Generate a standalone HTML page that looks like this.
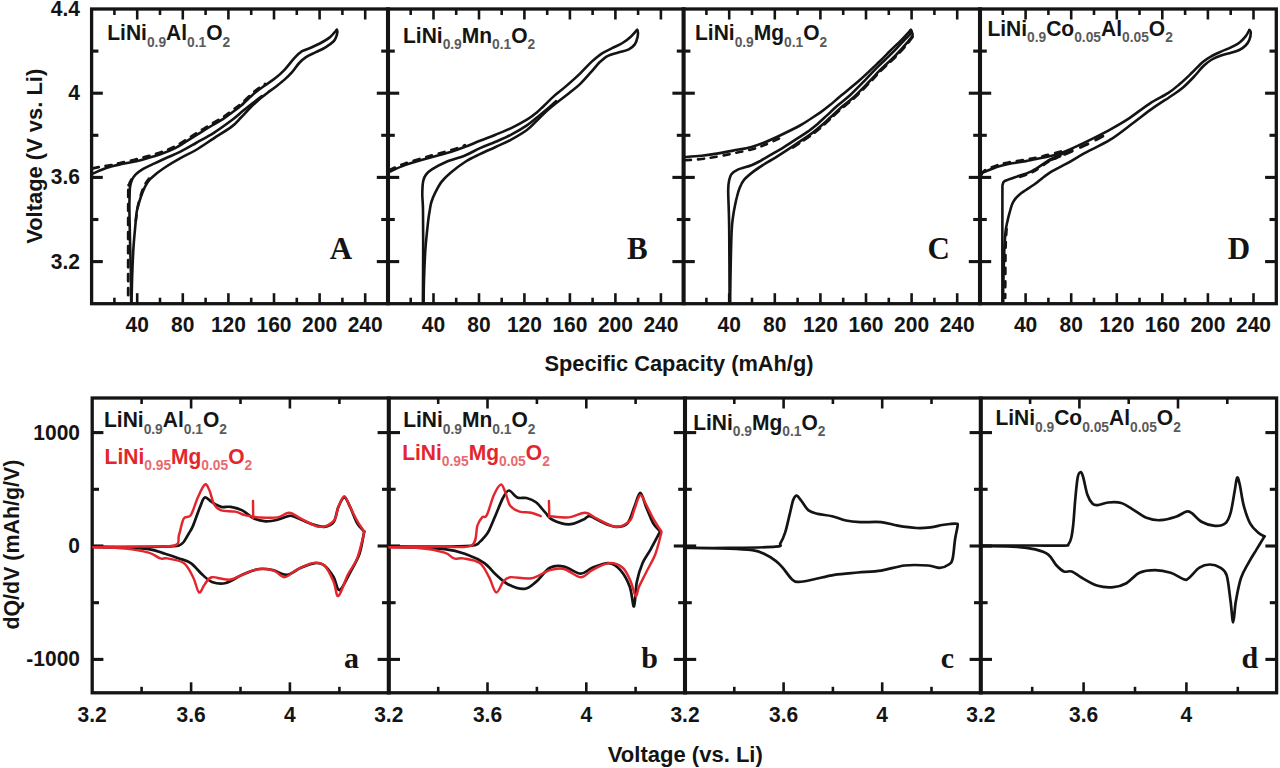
<!DOCTYPE html>
<html><head><meta charset="utf-8"><style>
html,body{margin:0;padding:0;background:#fff;}
body{width:1280px;height:768px;overflow:hidden;}
svg{display:block;}
</style></head><body>
<svg width="1280" height="768" viewBox="0 0 1280 768">
<rect width="1280" height="768" fill="#fff"/>
<rect x="91.6" y="9" width="1184.7" height="294.7" fill="none" stroke="#141414" stroke-width="3.3"/>
<line x1="388" y1="7.3" x2="388" y2="305.3" stroke="#141414" stroke-width="4.1"/>
<line x1="683.6" y1="7.3" x2="683.6" y2="305.3" stroke="#141414" stroke-width="4.1"/>
<line x1="980" y1="7.3" x2="980" y2="305.3" stroke="#141414" stroke-width="4.1"/>
<rect x="92.2" y="398" width="1184.4" height="294.8" fill="none" stroke="#141414" stroke-width="3.3"/>
<line x1="388.8" y1="396.4" x2="388.8" y2="694.4" stroke="#141414" stroke-width="4.1"/>
<line x1="685" y1="396.4" x2="685" y2="694.4" stroke="#141414" stroke-width="4.1"/>
<line x1="980.8" y1="396.4" x2="980.8" y2="694.4" stroke="#141414" stroke-width="4.1"/>
<line x1="114.4" y1="9" x2="114.4" y2="15" stroke="#141414" stroke-width="2.6"/>
<line x1="114.4" y1="303.7" x2="114.4" y2="297.7" stroke="#141414" stroke-width="2.6"/>
<line x1="137.2" y1="9" x2="137.2" y2="19.5" stroke="#141414" stroke-width="2.6"/>
<line x1="137.2" y1="303.7" x2="137.2" y2="293.2" stroke="#141414" stroke-width="2.6"/>
<line x1="160" y1="9" x2="160" y2="15" stroke="#141414" stroke-width="2.6"/>
<line x1="160" y1="303.7" x2="160" y2="297.7" stroke="#141414" stroke-width="2.6"/>
<line x1="182.8" y1="9" x2="182.8" y2="19.5" stroke="#141414" stroke-width="2.6"/>
<line x1="182.8" y1="303.7" x2="182.8" y2="293.2" stroke="#141414" stroke-width="2.6"/>
<line x1="205.6" y1="9" x2="205.6" y2="15" stroke="#141414" stroke-width="2.6"/>
<line x1="205.6" y1="303.7" x2="205.6" y2="297.7" stroke="#141414" stroke-width="2.6"/>
<line x1="228.4" y1="9" x2="228.4" y2="19.5" stroke="#141414" stroke-width="2.6"/>
<line x1="228.4" y1="303.7" x2="228.4" y2="293.2" stroke="#141414" stroke-width="2.6"/>
<line x1="251.2" y1="9" x2="251.2" y2="15" stroke="#141414" stroke-width="2.6"/>
<line x1="251.2" y1="303.7" x2="251.2" y2="297.7" stroke="#141414" stroke-width="2.6"/>
<line x1="274" y1="9" x2="274" y2="19.5" stroke="#141414" stroke-width="2.6"/>
<line x1="274" y1="303.7" x2="274" y2="293.2" stroke="#141414" stroke-width="2.6"/>
<line x1="296.8" y1="9" x2="296.8" y2="15" stroke="#141414" stroke-width="2.6"/>
<line x1="296.8" y1="303.7" x2="296.8" y2="297.7" stroke="#141414" stroke-width="2.6"/>
<line x1="319.6" y1="9" x2="319.6" y2="19.5" stroke="#141414" stroke-width="2.6"/>
<line x1="319.6" y1="303.7" x2="319.6" y2="293.2" stroke="#141414" stroke-width="2.6"/>
<line x1="342.4" y1="9" x2="342.4" y2="15" stroke="#141414" stroke-width="2.6"/>
<line x1="342.4" y1="303.7" x2="342.4" y2="297.7" stroke="#141414" stroke-width="2.6"/>
<line x1="365.2" y1="9" x2="365.2" y2="19.5" stroke="#141414" stroke-width="2.6"/>
<line x1="365.2" y1="303.7" x2="365.2" y2="293.2" stroke="#141414" stroke-width="2.6"/>
<line x1="410.7" y1="9" x2="410.7" y2="15" stroke="#141414" stroke-width="2.6"/>
<line x1="410.7" y1="303.7" x2="410.7" y2="297.7" stroke="#141414" stroke-width="2.6"/>
<line x1="433.5" y1="9" x2="433.5" y2="19.5" stroke="#141414" stroke-width="2.6"/>
<line x1="433.5" y1="303.7" x2="433.5" y2="293.2" stroke="#141414" stroke-width="2.6"/>
<line x1="456.2" y1="9" x2="456.2" y2="15" stroke="#141414" stroke-width="2.6"/>
<line x1="456.2" y1="303.7" x2="456.2" y2="297.7" stroke="#141414" stroke-width="2.6"/>
<line x1="479" y1="9" x2="479" y2="19.5" stroke="#141414" stroke-width="2.6"/>
<line x1="479" y1="303.7" x2="479" y2="293.2" stroke="#141414" stroke-width="2.6"/>
<line x1="501.7" y1="9" x2="501.7" y2="15" stroke="#141414" stroke-width="2.6"/>
<line x1="501.7" y1="303.7" x2="501.7" y2="297.7" stroke="#141414" stroke-width="2.6"/>
<line x1="524.4" y1="9" x2="524.4" y2="19.5" stroke="#141414" stroke-width="2.6"/>
<line x1="524.4" y1="303.7" x2="524.4" y2="293.2" stroke="#141414" stroke-width="2.6"/>
<line x1="547.2" y1="9" x2="547.2" y2="15" stroke="#141414" stroke-width="2.6"/>
<line x1="547.2" y1="303.7" x2="547.2" y2="297.7" stroke="#141414" stroke-width="2.6"/>
<line x1="569.9" y1="9" x2="569.9" y2="19.5" stroke="#141414" stroke-width="2.6"/>
<line x1="569.9" y1="303.7" x2="569.9" y2="293.2" stroke="#141414" stroke-width="2.6"/>
<line x1="592.6" y1="9" x2="592.6" y2="15" stroke="#141414" stroke-width="2.6"/>
<line x1="592.6" y1="303.7" x2="592.6" y2="297.7" stroke="#141414" stroke-width="2.6"/>
<line x1="615.4" y1="9" x2="615.4" y2="19.5" stroke="#141414" stroke-width="2.6"/>
<line x1="615.4" y1="303.7" x2="615.4" y2="293.2" stroke="#141414" stroke-width="2.6"/>
<line x1="638.1" y1="9" x2="638.1" y2="15" stroke="#141414" stroke-width="2.6"/>
<line x1="638.1" y1="303.7" x2="638.1" y2="297.7" stroke="#141414" stroke-width="2.6"/>
<line x1="660.9" y1="9" x2="660.9" y2="19.5" stroke="#141414" stroke-width="2.6"/>
<line x1="660.9" y1="303.7" x2="660.9" y2="293.2" stroke="#141414" stroke-width="2.6"/>
<line x1="706.4" y1="9" x2="706.4" y2="15" stroke="#141414" stroke-width="2.6"/>
<line x1="706.4" y1="303.7" x2="706.4" y2="297.7" stroke="#141414" stroke-width="2.6"/>
<line x1="729.2" y1="9" x2="729.2" y2="19.5" stroke="#141414" stroke-width="2.6"/>
<line x1="729.2" y1="303.7" x2="729.2" y2="293.2" stroke="#141414" stroke-width="2.6"/>
<line x1="752" y1="9" x2="752" y2="15" stroke="#141414" stroke-width="2.6"/>
<line x1="752" y1="303.7" x2="752" y2="297.7" stroke="#141414" stroke-width="2.6"/>
<line x1="774.8" y1="9" x2="774.8" y2="19.5" stroke="#141414" stroke-width="2.6"/>
<line x1="774.8" y1="303.7" x2="774.8" y2="293.2" stroke="#141414" stroke-width="2.6"/>
<line x1="797.6" y1="9" x2="797.6" y2="15" stroke="#141414" stroke-width="2.6"/>
<line x1="797.6" y1="303.7" x2="797.6" y2="297.7" stroke="#141414" stroke-width="2.6"/>
<line x1="820.4" y1="9" x2="820.4" y2="19.5" stroke="#141414" stroke-width="2.6"/>
<line x1="820.4" y1="303.7" x2="820.4" y2="293.2" stroke="#141414" stroke-width="2.6"/>
<line x1="843.2" y1="9" x2="843.2" y2="15" stroke="#141414" stroke-width="2.6"/>
<line x1="843.2" y1="303.7" x2="843.2" y2="297.7" stroke="#141414" stroke-width="2.6"/>
<line x1="866" y1="9" x2="866" y2="19.5" stroke="#141414" stroke-width="2.6"/>
<line x1="866" y1="303.7" x2="866" y2="293.2" stroke="#141414" stroke-width="2.6"/>
<line x1="888.8" y1="9" x2="888.8" y2="15" stroke="#141414" stroke-width="2.6"/>
<line x1="888.8" y1="303.7" x2="888.8" y2="297.7" stroke="#141414" stroke-width="2.6"/>
<line x1="911.6" y1="9" x2="911.6" y2="19.5" stroke="#141414" stroke-width="2.6"/>
<line x1="911.6" y1="303.7" x2="911.6" y2="293.2" stroke="#141414" stroke-width="2.6"/>
<line x1="934.4" y1="9" x2="934.4" y2="15" stroke="#141414" stroke-width="2.6"/>
<line x1="934.4" y1="303.7" x2="934.4" y2="297.7" stroke="#141414" stroke-width="2.6"/>
<line x1="957.2" y1="9" x2="957.2" y2="19.5" stroke="#141414" stroke-width="2.6"/>
<line x1="957.2" y1="303.7" x2="957.2" y2="293.2" stroke="#141414" stroke-width="2.6"/>
<line x1="1002.8" y1="9" x2="1002.8" y2="15" stroke="#141414" stroke-width="2.6"/>
<line x1="1002.8" y1="303.7" x2="1002.8" y2="297.7" stroke="#141414" stroke-width="2.6"/>
<line x1="1025.6" y1="9" x2="1025.6" y2="19.5" stroke="#141414" stroke-width="2.6"/>
<line x1="1025.6" y1="303.7" x2="1025.6" y2="293.2" stroke="#141414" stroke-width="2.6"/>
<line x1="1048.4" y1="9" x2="1048.4" y2="15" stroke="#141414" stroke-width="2.6"/>
<line x1="1048.4" y1="303.7" x2="1048.4" y2="297.7" stroke="#141414" stroke-width="2.6"/>
<line x1="1071.2" y1="9" x2="1071.2" y2="19.5" stroke="#141414" stroke-width="2.6"/>
<line x1="1071.2" y1="303.7" x2="1071.2" y2="293.2" stroke="#141414" stroke-width="2.6"/>
<line x1="1094" y1="9" x2="1094" y2="15" stroke="#141414" stroke-width="2.6"/>
<line x1="1094" y1="303.7" x2="1094" y2="297.7" stroke="#141414" stroke-width="2.6"/>
<line x1="1116.8" y1="9" x2="1116.8" y2="19.5" stroke="#141414" stroke-width="2.6"/>
<line x1="1116.8" y1="303.7" x2="1116.8" y2="293.2" stroke="#141414" stroke-width="2.6"/>
<line x1="1139.5" y1="9" x2="1139.5" y2="15" stroke="#141414" stroke-width="2.6"/>
<line x1="1139.5" y1="303.7" x2="1139.5" y2="297.7" stroke="#141414" stroke-width="2.6"/>
<line x1="1162.3" y1="9" x2="1162.3" y2="19.5" stroke="#141414" stroke-width="2.6"/>
<line x1="1162.3" y1="303.7" x2="1162.3" y2="293.2" stroke="#141414" stroke-width="2.6"/>
<line x1="1185.1" y1="9" x2="1185.1" y2="15" stroke="#141414" stroke-width="2.6"/>
<line x1="1185.1" y1="303.7" x2="1185.1" y2="297.7" stroke="#141414" stroke-width="2.6"/>
<line x1="1207.9" y1="9" x2="1207.9" y2="19.5" stroke="#141414" stroke-width="2.6"/>
<line x1="1207.9" y1="303.7" x2="1207.9" y2="293.2" stroke="#141414" stroke-width="2.6"/>
<line x1="1230.7" y1="9" x2="1230.7" y2="15" stroke="#141414" stroke-width="2.6"/>
<line x1="1230.7" y1="303.7" x2="1230.7" y2="297.7" stroke="#141414" stroke-width="2.6"/>
<line x1="1253.5" y1="9" x2="1253.5" y2="19.5" stroke="#141414" stroke-width="2.6"/>
<line x1="1253.5" y1="303.7" x2="1253.5" y2="293.2" stroke="#141414" stroke-width="2.6"/>
<line x1="91.6" y1="51.1" x2="98.4" y2="51.1" stroke="#141414" stroke-width="3.1"/>
<line x1="381.2" y1="51.1" x2="394.8" y2="51.1" stroke="#141414" stroke-width="3.1"/>
<line x1="676.8" y1="51.1" x2="690.4" y2="51.1" stroke="#141414" stroke-width="3.1"/>
<line x1="973.2" y1="51.1" x2="986.8" y2="51.1" stroke="#141414" stroke-width="3.1"/>
<line x1="1276.3" y1="51.1" x2="1269.5" y2="51.1" stroke="#141414" stroke-width="3.1"/>
<line x1="91.6" y1="93.2" x2="102.8" y2="93.2" stroke="#141414" stroke-width="3.1"/>
<line x1="376.8" y1="93.2" x2="399.2" y2="93.2" stroke="#141414" stroke-width="3.1"/>
<line x1="672.4" y1="93.2" x2="694.8" y2="93.2" stroke="#141414" stroke-width="3.1"/>
<line x1="968.8" y1="93.2" x2="991.2" y2="93.2" stroke="#141414" stroke-width="3.1"/>
<line x1="1276.3" y1="93.2" x2="1265.1" y2="93.2" stroke="#141414" stroke-width="3.1"/>
<line x1="91.6" y1="135.3" x2="98.4" y2="135.3" stroke="#141414" stroke-width="3.1"/>
<line x1="381.2" y1="135.3" x2="394.8" y2="135.3" stroke="#141414" stroke-width="3.1"/>
<line x1="676.8" y1="135.3" x2="690.4" y2="135.3" stroke="#141414" stroke-width="3.1"/>
<line x1="973.2" y1="135.3" x2="986.8" y2="135.3" stroke="#141414" stroke-width="3.1"/>
<line x1="1276.3" y1="135.3" x2="1269.5" y2="135.3" stroke="#141414" stroke-width="3.1"/>
<line x1="91.6" y1="177.4" x2="102.8" y2="177.4" stroke="#141414" stroke-width="3.1"/>
<line x1="376.8" y1="177.4" x2="399.2" y2="177.4" stroke="#141414" stroke-width="3.1"/>
<line x1="672.4" y1="177.4" x2="694.8" y2="177.4" stroke="#141414" stroke-width="3.1"/>
<line x1="968.8" y1="177.4" x2="991.2" y2="177.4" stroke="#141414" stroke-width="3.1"/>
<line x1="1276.3" y1="177.4" x2="1265.1" y2="177.4" stroke="#141414" stroke-width="3.1"/>
<line x1="91.6" y1="219.5" x2="98.4" y2="219.5" stroke="#141414" stroke-width="3.1"/>
<line x1="381.2" y1="219.5" x2="394.8" y2="219.5" stroke="#141414" stroke-width="3.1"/>
<line x1="676.8" y1="219.5" x2="690.4" y2="219.5" stroke="#141414" stroke-width="3.1"/>
<line x1="973.2" y1="219.5" x2="986.8" y2="219.5" stroke="#141414" stroke-width="3.1"/>
<line x1="1276.3" y1="219.5" x2="1269.5" y2="219.5" stroke="#141414" stroke-width="3.1"/>
<line x1="91.6" y1="261.6" x2="102.8" y2="261.6" stroke="#141414" stroke-width="3.1"/>
<line x1="376.8" y1="261.6" x2="399.2" y2="261.6" stroke="#141414" stroke-width="3.1"/>
<line x1="672.4" y1="261.6" x2="694.8" y2="261.6" stroke="#141414" stroke-width="3.1"/>
<line x1="968.8" y1="261.6" x2="991.2" y2="261.6" stroke="#141414" stroke-width="3.1"/>
<line x1="1276.3" y1="261.6" x2="1265.1" y2="261.6" stroke="#141414" stroke-width="3.1"/>
<line x1="141.6" y1="398" x2="141.6" y2="404" stroke="#141414" stroke-width="2.6"/>
<line x1="141.6" y1="692.8" x2="141.6" y2="686.8" stroke="#141414" stroke-width="2.6"/>
<line x1="191.1" y1="398" x2="191.1" y2="408.5" stroke="#141414" stroke-width="2.6"/>
<line x1="191.1" y1="692.8" x2="191.1" y2="682.3" stroke="#141414" stroke-width="2.6"/>
<line x1="240.5" y1="398" x2="240.5" y2="404" stroke="#141414" stroke-width="2.6"/>
<line x1="240.5" y1="692.8" x2="240.5" y2="686.8" stroke="#141414" stroke-width="2.6"/>
<line x1="289.9" y1="398" x2="289.9" y2="408.5" stroke="#141414" stroke-width="2.6"/>
<line x1="289.9" y1="692.8" x2="289.9" y2="682.3" stroke="#141414" stroke-width="2.6"/>
<line x1="339.4" y1="398" x2="339.4" y2="404" stroke="#141414" stroke-width="2.6"/>
<line x1="339.4" y1="692.8" x2="339.4" y2="686.8" stroke="#141414" stroke-width="2.6"/>
<line x1="438.2" y1="398" x2="438.2" y2="404" stroke="#141414" stroke-width="2.6"/>
<line x1="438.2" y1="692.8" x2="438.2" y2="686.8" stroke="#141414" stroke-width="2.6"/>
<line x1="487.5" y1="398" x2="487.5" y2="408.5" stroke="#141414" stroke-width="2.6"/>
<line x1="487.5" y1="692.8" x2="487.5" y2="682.3" stroke="#141414" stroke-width="2.6"/>
<line x1="536.9" y1="398" x2="536.9" y2="404" stroke="#141414" stroke-width="2.6"/>
<line x1="536.9" y1="692.8" x2="536.9" y2="686.8" stroke="#141414" stroke-width="2.6"/>
<line x1="586.3" y1="398" x2="586.3" y2="408.5" stroke="#141414" stroke-width="2.6"/>
<line x1="586.3" y1="692.8" x2="586.3" y2="682.3" stroke="#141414" stroke-width="2.6"/>
<line x1="635.6" y1="398" x2="635.6" y2="404" stroke="#141414" stroke-width="2.6"/>
<line x1="635.6" y1="692.8" x2="635.6" y2="686.8" stroke="#141414" stroke-width="2.6"/>
<line x1="734.3" y1="398" x2="734.3" y2="404" stroke="#141414" stroke-width="2.6"/>
<line x1="734.3" y1="692.8" x2="734.3" y2="686.8" stroke="#141414" stroke-width="2.6"/>
<line x1="783.6" y1="398" x2="783.6" y2="408.5" stroke="#141414" stroke-width="2.6"/>
<line x1="783.6" y1="692.8" x2="783.6" y2="682.3" stroke="#141414" stroke-width="2.6"/>
<line x1="832.9" y1="398" x2="832.9" y2="404" stroke="#141414" stroke-width="2.6"/>
<line x1="832.9" y1="692.8" x2="832.9" y2="686.8" stroke="#141414" stroke-width="2.6"/>
<line x1="882.2" y1="398" x2="882.2" y2="408.5" stroke="#141414" stroke-width="2.6"/>
<line x1="882.2" y1="692.8" x2="882.2" y2="682.3" stroke="#141414" stroke-width="2.6"/>
<line x1="931.5" y1="398" x2="931.5" y2="404" stroke="#141414" stroke-width="2.6"/>
<line x1="931.5" y1="692.8" x2="931.5" y2="686.8" stroke="#141414" stroke-width="2.6"/>
<line x1="1030.1" y1="398" x2="1030.1" y2="404" stroke="#141414" stroke-width="2.6"/>
<line x1="1032.2" y1="692.8" x2="1032.2" y2="686.8" stroke="#141414" stroke-width="2.6"/>
<line x1="1079.4" y1="398" x2="1079.4" y2="408.5" stroke="#141414" stroke-width="2.6"/>
<line x1="1083.6" y1="692.8" x2="1083.6" y2="682.3" stroke="#141414" stroke-width="2.6"/>
<line x1="1128.7" y1="398" x2="1128.7" y2="404" stroke="#141414" stroke-width="2.6"/>
<line x1="1135" y1="692.8" x2="1135" y2="686.8" stroke="#141414" stroke-width="2.6"/>
<line x1="1178" y1="398" x2="1178" y2="408.5" stroke="#141414" stroke-width="2.6"/>
<line x1="1186.4" y1="692.8" x2="1186.4" y2="682.3" stroke="#141414" stroke-width="2.6"/>
<line x1="1227.3" y1="398" x2="1227.3" y2="404" stroke="#141414" stroke-width="2.6"/>
<line x1="1237.8" y1="692.8" x2="1237.8" y2="686.8" stroke="#141414" stroke-width="2.6"/>
<line x1="92.2" y1="432.6" x2="103.4" y2="432.6" stroke="#141414" stroke-width="3.1"/>
<line x1="377.6" y1="432.6" x2="400" y2="432.6" stroke="#141414" stroke-width="3.1"/>
<line x1="673.8" y1="432.6" x2="696.2" y2="432.6" stroke="#141414" stroke-width="3.1"/>
<line x1="969.6" y1="432.6" x2="992" y2="432.6" stroke="#141414" stroke-width="3.1"/>
<line x1="1276.6" y1="432.6" x2="1265.4" y2="432.6" stroke="#141414" stroke-width="3.1"/>
<line x1="92.2" y1="489.3" x2="99" y2="489.3" stroke="#141414" stroke-width="3.1"/>
<line x1="382" y1="489.3" x2="395.6" y2="489.3" stroke="#141414" stroke-width="3.1"/>
<line x1="678.2" y1="489.3" x2="691.8" y2="489.3" stroke="#141414" stroke-width="3.1"/>
<line x1="974" y1="489.3" x2="987.6" y2="489.3" stroke="#141414" stroke-width="3.1"/>
<line x1="1276.6" y1="489.3" x2="1269.8" y2="489.3" stroke="#141414" stroke-width="3.1"/>
<line x1="92.2" y1="546" x2="103.4" y2="546" stroke="#141414" stroke-width="3.1"/>
<line x1="377.6" y1="546" x2="400" y2="546" stroke="#141414" stroke-width="3.1"/>
<line x1="673.8" y1="546" x2="696.2" y2="546" stroke="#141414" stroke-width="3.1"/>
<line x1="969.6" y1="546" x2="992" y2="546" stroke="#141414" stroke-width="3.1"/>
<line x1="1276.6" y1="546" x2="1265.4" y2="546" stroke="#141414" stroke-width="3.1"/>
<line x1="92.2" y1="602.7" x2="99" y2="602.7" stroke="#141414" stroke-width="3.1"/>
<line x1="382" y1="602.7" x2="395.6" y2="602.7" stroke="#141414" stroke-width="3.1"/>
<line x1="678.2" y1="602.7" x2="691.8" y2="602.7" stroke="#141414" stroke-width="3.1"/>
<line x1="974" y1="602.7" x2="987.6" y2="602.7" stroke="#141414" stroke-width="3.1"/>
<line x1="1276.6" y1="602.7" x2="1269.8" y2="602.7" stroke="#141414" stroke-width="3.1"/>
<line x1="92.2" y1="659.4" x2="103.4" y2="659.4" stroke="#141414" stroke-width="3.1"/>
<line x1="377.6" y1="659.4" x2="400" y2="659.4" stroke="#141414" stroke-width="3.1"/>
<line x1="673.8" y1="659.4" x2="696.2" y2="659.4" stroke="#141414" stroke-width="3.1"/>
<line x1="969.6" y1="659.4" x2="992" y2="659.4" stroke="#141414" stroke-width="3.1"/>
<line x1="1276.6" y1="659.4" x2="1265.4" y2="659.4" stroke="#141414" stroke-width="3.1"/>
<text x="80" y="16" text-anchor="end" style="font-family:'Liberation Sans', sans-serif;font-weight:bold;font-size:21px;fill:#141414" transform="matrix(1,0,0,1.07,0,-1.1)" >4.4</text>
<text x="80" y="100.2" text-anchor="end" style="font-family:'Liberation Sans', sans-serif;font-weight:bold;font-size:21px;fill:#141414" transform="matrix(1,0,0,1.07,0,-7)" >4</text>
<text x="80" y="184.4" text-anchor="end" style="font-family:'Liberation Sans', sans-serif;font-weight:bold;font-size:21px;fill:#141414" transform="matrix(1,0,0,1.07,0,-12.9)" >3.6</text>
<text x="80" y="268.6" text-anchor="end" style="font-family:'Liberation Sans', sans-serif;font-weight:bold;font-size:21px;fill:#141414" transform="matrix(1,0,0,1.07,0,-18.8)" >3.2</text>
<text x="137.2" y="332.3" text-anchor="middle" style="font-family:'Liberation Sans', sans-serif;font-weight:bold;font-size:21px;fill:#141414" transform="matrix(1,0,0,1.07,0,-23.3)" >40</text>
<text x="182.8" y="332.3" text-anchor="middle" style="font-family:'Liberation Sans', sans-serif;font-weight:bold;font-size:21px;fill:#141414" transform="matrix(1,0,0,1.07,0,-23.3)" >80</text>
<text x="228.4" y="332.3" text-anchor="middle" style="font-family:'Liberation Sans', sans-serif;font-weight:bold;font-size:21px;fill:#141414" transform="matrix(1,0,0,1.07,0,-23.3)" >120</text>
<text x="274" y="332.3" text-anchor="middle" style="font-family:'Liberation Sans', sans-serif;font-weight:bold;font-size:21px;fill:#141414" transform="matrix(1,0,0,1.07,0,-23.3)" >160</text>
<text x="319.6" y="332.3" text-anchor="middle" style="font-family:'Liberation Sans', sans-serif;font-weight:bold;font-size:21px;fill:#141414" transform="matrix(1,0,0,1.07,0,-23.3)" >200</text>
<text x="365.2" y="332.3" text-anchor="middle" style="font-family:'Liberation Sans', sans-serif;font-weight:bold;font-size:21px;fill:#141414" transform="matrix(1,0,0,1.07,0,-23.3)" >240</text>
<text x="433.5" y="332.3" text-anchor="middle" style="font-family:'Liberation Sans', sans-serif;font-weight:bold;font-size:21px;fill:#141414" transform="matrix(1,0,0,1.07,0,-23.3)" >40</text>
<text x="479" y="332.3" text-anchor="middle" style="font-family:'Liberation Sans', sans-serif;font-weight:bold;font-size:21px;fill:#141414" transform="matrix(1,0,0,1.07,0,-23.3)" >80</text>
<text x="524.4" y="332.3" text-anchor="middle" style="font-family:'Liberation Sans', sans-serif;font-weight:bold;font-size:21px;fill:#141414" transform="matrix(1,0,0,1.07,0,-23.3)" >120</text>
<text x="569.9" y="332.3" text-anchor="middle" style="font-family:'Liberation Sans', sans-serif;font-weight:bold;font-size:21px;fill:#141414" transform="matrix(1,0,0,1.07,0,-23.3)" >160</text>
<text x="615.4" y="332.3" text-anchor="middle" style="font-family:'Liberation Sans', sans-serif;font-weight:bold;font-size:21px;fill:#141414" transform="matrix(1,0,0,1.07,0,-23.3)" >200</text>
<text x="660.9" y="332.3" text-anchor="middle" style="font-family:'Liberation Sans', sans-serif;font-weight:bold;font-size:21px;fill:#141414" transform="matrix(1,0,0,1.07,0,-23.3)" >240</text>
<text x="729.2" y="332.3" text-anchor="middle" style="font-family:'Liberation Sans', sans-serif;font-weight:bold;font-size:21px;fill:#141414" transform="matrix(1,0,0,1.07,0,-23.3)" >40</text>
<text x="774.8" y="332.3" text-anchor="middle" style="font-family:'Liberation Sans', sans-serif;font-weight:bold;font-size:21px;fill:#141414" transform="matrix(1,0,0,1.07,0,-23.3)" >80</text>
<text x="820.4" y="332.3" text-anchor="middle" style="font-family:'Liberation Sans', sans-serif;font-weight:bold;font-size:21px;fill:#141414" transform="matrix(1,0,0,1.07,0,-23.3)" >120</text>
<text x="866" y="332.3" text-anchor="middle" style="font-family:'Liberation Sans', sans-serif;font-weight:bold;font-size:21px;fill:#141414" transform="matrix(1,0,0,1.07,0,-23.3)" >160</text>
<text x="911.6" y="332.3" text-anchor="middle" style="font-family:'Liberation Sans', sans-serif;font-weight:bold;font-size:21px;fill:#141414" transform="matrix(1,0,0,1.07,0,-23.3)" >200</text>
<text x="957.2" y="332.3" text-anchor="middle" style="font-family:'Liberation Sans', sans-serif;font-weight:bold;font-size:21px;fill:#141414" transform="matrix(1,0,0,1.07,0,-23.3)" >240</text>
<text x="1025.6" y="332.3" text-anchor="middle" style="font-family:'Liberation Sans', sans-serif;font-weight:bold;font-size:21px;fill:#141414" transform="matrix(1,0,0,1.07,0,-23.3)" >40</text>
<text x="1071.2" y="332.3" text-anchor="middle" style="font-family:'Liberation Sans', sans-serif;font-weight:bold;font-size:21px;fill:#141414" transform="matrix(1,0,0,1.07,0,-23.3)" >80</text>
<text x="1116.8" y="332.3" text-anchor="middle" style="font-family:'Liberation Sans', sans-serif;font-weight:bold;font-size:21px;fill:#141414" transform="matrix(1,0,0,1.07,0,-23.3)" >120</text>
<text x="1162.3" y="332.3" text-anchor="middle" style="font-family:'Liberation Sans', sans-serif;font-weight:bold;font-size:21px;fill:#141414" transform="matrix(1,0,0,1.07,0,-23.3)" >160</text>
<text x="1207.9" y="332.3" text-anchor="middle" style="font-family:'Liberation Sans', sans-serif;font-weight:bold;font-size:21px;fill:#141414" transform="matrix(1,0,0,1.07,0,-23.3)" >200</text>
<text x="1253.5" y="332.3" text-anchor="middle" style="font-family:'Liberation Sans', sans-serif;font-weight:bold;font-size:21px;fill:#141414" transform="matrix(1,0,0,1.07,0,-23.3)" >240</text>
<text x="80" y="439.6" text-anchor="end" style="font-family:'Liberation Sans', sans-serif;font-weight:bold;font-size:21px;fill:#141414" transform="matrix(1,0,0,1.07,0,-30.8)" >1000</text>
<text x="80" y="553" text-anchor="end" style="font-family:'Liberation Sans', sans-serif;font-weight:bold;font-size:21px;fill:#141414" transform="matrix(1,0,0,1.07,0,-38.7)" >0</text>
<text x="80" y="666.4" text-anchor="end" style="font-family:'Liberation Sans', sans-serif;font-weight:bold;font-size:21px;fill:#141414" transform="matrix(1,0,0,1.07,0,-46.6)" >-1000</text>
<text x="92.2" y="722.3" text-anchor="middle" style="font-family:'Liberation Sans', sans-serif;font-weight:bold;font-size:21px;fill:#141414" transform="matrix(1,0,0,1.07,0,-50.6)" >3.2</text>
<text x="191.1" y="722.3" text-anchor="middle" style="font-family:'Liberation Sans', sans-serif;font-weight:bold;font-size:21px;fill:#141414" transform="matrix(1,0,0,1.07,0,-50.6)" >3.6</text>
<text x="289.9" y="722.3" text-anchor="middle" style="font-family:'Liberation Sans', sans-serif;font-weight:bold;font-size:21px;fill:#141414" transform="matrix(1,0,0,1.07,0,-50.6)" >4</text>
<text x="388.8" y="722.3" text-anchor="middle" style="font-family:'Liberation Sans', sans-serif;font-weight:bold;font-size:21px;fill:#141414" transform="matrix(1,0,0,1.07,0,-50.6)" >3.2</text>
<text x="487.5" y="722.3" text-anchor="middle" style="font-family:'Liberation Sans', sans-serif;font-weight:bold;font-size:21px;fill:#141414" transform="matrix(1,0,0,1.07,0,-50.6)" >3.6</text>
<text x="586.3" y="722.3" text-anchor="middle" style="font-family:'Liberation Sans', sans-serif;font-weight:bold;font-size:21px;fill:#141414" transform="matrix(1,0,0,1.07,0,-50.6)" >4</text>
<text x="685" y="722.3" text-anchor="middle" style="font-family:'Liberation Sans', sans-serif;font-weight:bold;font-size:21px;fill:#141414" transform="matrix(1,0,0,1.07,0,-50.6)" >3.2</text>
<text x="783.6" y="722.3" text-anchor="middle" style="font-family:'Liberation Sans', sans-serif;font-weight:bold;font-size:21px;fill:#141414" transform="matrix(1,0,0,1.07,0,-50.6)" >3.6</text>
<text x="882.2" y="722.3" text-anchor="middle" style="font-family:'Liberation Sans', sans-serif;font-weight:bold;font-size:21px;fill:#141414" transform="matrix(1,0,0,1.07,0,-50.6)" >4</text>
<text x="980.8" y="722.3" text-anchor="middle" style="font-family:'Liberation Sans', sans-serif;font-weight:bold;font-size:21px;fill:#141414" transform="matrix(1,0,0,1.07,0,-50.6)" >3.2</text>
<text x="1083.6" y="722.3" text-anchor="middle" style="font-family:'Liberation Sans', sans-serif;font-weight:bold;font-size:21px;fill:#141414" transform="matrix(1,0,0,1.07,0,-50.6)" >3.6</text>
<text x="1186.4" y="722.3" text-anchor="middle" style="font-family:'Liberation Sans', sans-serif;font-weight:bold;font-size:21px;fill:#141414" transform="matrix(1,0,0,1.07,0,-50.6)" >4</text>
<text x="544.5" y="370.8" text-anchor="start" style="font-family:'Liberation Sans', sans-serif;font-weight:bold;font-size:21.8px;fill:#141414" textLength="269" lengthAdjust="spacingAndGlyphs">Specific Capacity (mAh/g)</text>
<text x="607.8" y="762" text-anchor="start" style="font-family:'Liberation Sans', sans-serif;font-weight:bold;font-size:21.8px;fill:#141414" textLength="155" lengthAdjust="spacingAndGlyphs">Voltage (vs. Li)</text>
<text transform="translate(41.9,243.8) rotate(-90)" style="font-family:'Liberation Sans', sans-serif;font-weight:bold;font-size:21.8px;fill:#141414" textLength="175" lengthAdjust="spacingAndGlyphs">Voltage (V vs. Li)</text>
<text transform="translate(18.8,629.6) rotate(-90)" style="font-family:'Liberation Sans', sans-serif;font-weight:bold;font-size:21.8px;fill:#141414" textLength="170" lengthAdjust="spacingAndGlyphs">dQ/dV (mAh/g/V)</text>
<text x="107.3" y="40.2" style="font-family:'Liberation Sans', sans-serif;font-weight:bold;font-size:21px;fill:#141414" transform="matrix(1,0,0,1.05,0,-2)"><tspan y="40.2">LiNi</tspan><tspan y="46.2" style="font-size:13.8px;fill:#5a5a5a">0.9</tspan><tspan y="40.2">Al</tspan><tspan y="46.2" style="font-size:13.8px;fill:#5a5a5a">0.1</tspan><tspan y="40.2">O</tspan><tspan y="46.2" style="font-size:13.8px;fill:#5a5a5a">2</tspan></text>
<text x="403" y="42.8" style="font-family:'Liberation Sans', sans-serif;font-weight:bold;font-size:21px;fill:#141414" transform="matrix(1,0,0,1.05,0,-2.1)"><tspan y="42.8">LiNi</tspan><tspan y="48.8" style="font-size:13.8px;fill:#5a5a5a">0.9</tspan><tspan y="42.8">Mn</tspan><tspan y="48.8" style="font-size:13.8px;fill:#5a5a5a">0.1</tspan><tspan y="42.8">O</tspan><tspan y="48.8" style="font-size:13.8px;fill:#5a5a5a">2</tspan></text>
<text x="695" y="40.2" style="font-family:'Liberation Sans', sans-serif;font-weight:bold;font-size:21px;fill:#141414" transform="matrix(1,0,0,1.05,0,-2)"><tspan y="40.2">LiNi</tspan><tspan y="46.2" style="font-size:13.8px;fill:#5a5a5a">0.9</tspan><tspan y="40.2">Mg</tspan><tspan y="46.2" style="font-size:13.8px;fill:#5a5a5a">0.1</tspan><tspan y="40.2">O</tspan><tspan y="46.2" style="font-size:13.8px;fill:#5a5a5a">2</tspan></text>
<text x="987.4" y="36" style="font-family:'Liberation Sans', sans-serif;font-weight:bold;font-size:21px;fill:#141414" transform="matrix(1,0,0,1.05,0,-1.8)"><tspan y="36">LiNi</tspan><tspan y="42" style="font-size:13.8px;fill:#5a5a5a">0.9</tspan><tspan y="36">Co</tspan><tspan y="42" style="font-size:13.8px;fill:#5a5a5a">0.05</tspan><tspan y="36">Al</tspan><tspan y="42" style="font-size:13.8px;fill:#5a5a5a">0.05</tspan><tspan y="36">O</tspan><tspan y="42" style="font-size:13.8px;fill:#5a5a5a">2</tspan></text>
<text x="104" y="427.4" style="font-family:'Liberation Sans', sans-serif;font-weight:bold;font-size:21px;fill:#141414" transform="matrix(1,0,0,1.05,0,-21.4)"><tspan y="427.4">LiNi</tspan><tspan y="433.4" style="font-size:13.8px;fill:#5a5a5a">0.9</tspan><tspan y="427.4">Al</tspan><tspan y="433.4" style="font-size:13.8px;fill:#5a5a5a">0.1</tspan><tspan y="427.4">O</tspan><tspan y="433.4" style="font-size:13.8px;fill:#5a5a5a">2</tspan></text>
<text x="104.6" y="464" style="font-family:'Liberation Sans', sans-serif;font-weight:bold;font-size:21px;fill:#e3262d" transform="matrix(1,0,0,1.05,0,-23.2)"><tspan y="464">LiNi</tspan><tspan y="470" style="font-size:13.8px;fill:#e86a6f">0.95</tspan><tspan y="464">Mg</tspan><tspan y="470" style="font-size:13.8px;fill:#e86a6f">0.05</tspan><tspan y="464">O</tspan><tspan y="470" style="font-size:13.8px;fill:#e86a6f">2</tspan></text>
<text x="403.2" y="427.4" style="font-family:'Liberation Sans', sans-serif;font-weight:bold;font-size:21px;fill:#141414" transform="matrix(1,0,0,1.05,0,-21.4)"><tspan y="427.4">LiNi</tspan><tspan y="433.4" style="font-size:13.8px;fill:#5a5a5a">0.9</tspan><tspan y="427.4">Mn</tspan><tspan y="433.4" style="font-size:13.8px;fill:#5a5a5a">0.1</tspan><tspan y="427.4">O</tspan><tspan y="433.4" style="font-size:13.8px;fill:#5a5a5a">2</tspan></text>
<text x="402.2" y="460.2" style="font-family:'Liberation Sans', sans-serif;font-weight:bold;font-size:21px;fill:#e3262d" transform="matrix(1,0,0,1.05,0,-23)"><tspan y="460.2">LiNi</tspan><tspan y="466.2" style="font-size:13.8px;fill:#e86a6f">0.95</tspan><tspan y="460.2">Mg</tspan><tspan y="466.2" style="font-size:13.8px;fill:#e86a6f">0.05</tspan><tspan y="460.2">O</tspan><tspan y="466.2" style="font-size:13.8px;fill:#e86a6f">2</tspan></text>
<text x="693.2" y="429.8" style="font-family:'Liberation Sans', sans-serif;font-weight:bold;font-size:21px;fill:#141414" transform="matrix(1,0,0,1.05,0,-21.5)"><tspan y="429.8">LiNi</tspan><tspan y="435.8" style="font-size:13.8px;fill:#5a5a5a">0.9</tspan><tspan y="429.8">Mg</tspan><tspan y="435.8" style="font-size:13.8px;fill:#5a5a5a">0.1</tspan><tspan y="429.8">O</tspan><tspan y="435.8" style="font-size:13.8px;fill:#5a5a5a">2</tspan></text>
<text x="995.4" y="425.4" style="font-family:'Liberation Sans', sans-serif;font-weight:bold;font-size:21px;fill:#141414" transform="matrix(1,0,0,1.05,0,-21.3)"><tspan y="425.4">LiNi</tspan><tspan y="431.4" style="font-size:13.8px;fill:#5a5a5a">0.9</tspan><tspan y="425.4">Co</tspan><tspan y="431.4" style="font-size:13.8px;fill:#5a5a5a">0.05</tspan><tspan y="425.4">Al</tspan><tspan y="431.4" style="font-size:13.8px;fill:#5a5a5a">0.05</tspan><tspan y="425.4">O</tspan><tspan y="431.4" style="font-size:13.8px;fill:#5a5a5a">2</tspan></text>
<text x="341" y="259.3" text-anchor="middle" style="font-family:'Liberation Serif', serif;font-weight:bold;font-size:31px;fill:#141414" transform="matrix(1,0,0,1.03,0,-7.8)" >A</text>
<text x="637.4" y="259.3" text-anchor="middle" style="font-family:'Liberation Serif', serif;font-weight:bold;font-size:31px;fill:#141414" transform="matrix(1,0,0,1.03,0,-7.8)" >B</text>
<text x="938.8" y="259.3" text-anchor="middle" style="font-family:'Liberation Serif', serif;font-weight:bold;font-size:31px;fill:#141414" transform="matrix(1,0,0,1.03,0,-7.8)" >C</text>
<text x="1239" y="259.3" text-anchor="middle" style="font-family:'Liberation Serif', serif;font-weight:bold;font-size:31px;fill:#141414" transform="matrix(1,0,0,1.03,0,-7.8)" >D</text>
<text x="344" y="668.3" text-anchor="start" style="font-family:'Liberation Serif', serif;font-weight:bold;font-size:30px;fill:#141414" >a</text>
<text x="641.2" y="668.3" text-anchor="start" style="font-family:'Liberation Serif', serif;font-weight:bold;font-size:30px;fill:#141414" >b</text>
<text x="940.8" y="668.3" text-anchor="start" style="font-family:'Liberation Serif', serif;font-weight:bold;font-size:30px;fill:#141414" >c</text>
<text x="1241.6" y="668.3" text-anchor="start" style="font-family:'Liberation Serif', serif;font-weight:bold;font-size:30px;fill:#141414" >d</text>
<path d="M92.8,173.6C94.3,173 99.3,170.8 101.8,169.8C104.3,168.8 105.9,168.2 107.6,167.6C109.3,167 109.9,166.7 112,166.2C114.1,165.7 116.4,165.1 120,164.4C123.6,163.7 129.1,162.8 133.7,161.8C138.2,160.8 142.8,159.5 147.3,158.2C151.9,156.9 156.4,155.6 161,154C165.6,152.4 170.2,150.7 174.7,148.4C179.2,146.1 183.8,143 188,140.4C192.2,137.8 196.1,135.3 200.1,132.8C204.1,130.3 208.2,127.8 212,125.5C215.8,123.2 219.6,121.3 222.9,119.1C226.2,116.9 228.9,114.8 232,112.5C235.1,110.2 237.4,108.8 241.2,105.5C245,102.2 250.7,96.3 254.7,93C258.7,89.7 261.6,87.8 265,85.4C268.4,83 271.6,81.2 274.8,78.6C278.1,76 281.2,73.2 284.5,69.8C287.8,66.4 291.4,61.2 294.3,58.1C297.2,55 299.2,53 302.1,51.2C305,49.5 308.6,48.8 311.9,47.3C315.1,45.8 318.7,44.1 321.6,42.5C324.5,40.9 327.4,39.2 329.5,37.6C331.6,36 333.1,34 334.3,32.7C335.5,31.4 336.4,30.3 336.8,29.8" fill="none" stroke="#141414" stroke-width="2.6" stroke-linejoin="round" stroke-linecap="round"/>
<path d="M92.8,168.4C94.3,168.1 98.6,167.1 101.8,166.5C105,165.9 109,165.6 112,165C115,164.4 116.4,163.8 120,163C123.6,162.2 129.1,161.1 133.7,160C138.2,158.9 142.8,157.7 147.3,156.4C151.9,155.1 156.4,153.8 161,152.2C165.6,150.6 170.2,148.9 174.7,146.6C179.2,144.3 183.8,141.2 188,138.6C192.2,136 196.1,133.5 200.1,131C204.1,128.5 208.2,126 212,123.7C215.8,121.4 219.6,119.5 222.9,117.3C226.2,115.1 228.9,113 232,110.7C235.1,108.4 237.4,106.9 241.2,103.7C245,100.5 250.7,94.7 254.7,91.4C258.7,88.1 263.3,85.2 265,84" fill="none" stroke="#141414" stroke-width="2.8" stroke-linejoin="round" stroke-linecap="round" stroke-dasharray="6,7"/>
<path d="M336.8,29.8C336.9,30.2 337.5,30.9 337.4,32C337.3,33.1 337,35 336.3,36.6C335.6,38.2 335.2,39.7 333.4,41.5C331.6,43.3 328.4,45.5 325.5,47.3C322.6,49.1 319.1,50.6 315.8,52.2C312.6,53.8 308.8,55.3 306,57.1C303.2,58.9 301.5,60.6 299.2,63C296.9,65.4 294.8,69 292.3,71.8C289.9,74.5 287.4,77 284.5,79.6C281.6,82.2 277.7,85.1 274.8,87.4C271.9,89.7 269.8,91 267,93.2C264.2,95.4 260.8,98 258,100.5C255.2,103 252.8,105.2 250,108C247.2,110.8 244,114.4 241,117.5C238,120.6 236.5,122.9 232,126.4C227.5,129.9 219.8,134.4 213.8,138.3C207.8,142.2 201.6,146.7 196,150C190.4,153.3 185.1,155.5 180,158.3C174.9,161.1 169.5,164.4 165.6,167C161.7,169.6 159.2,171.4 156.5,173.6C153.8,175.8 151.2,177.9 149.2,180.2C147.2,182.5 146,184.9 144.6,187.6C143.2,190.3 142,193.6 141,196.5C140,199.4 139.1,202.4 138.4,205C137.7,207.6 137.2,208.7 136.7,212C136.2,215.3 135.9,219.4 135.4,225C134.9,230.6 134.2,236.7 133.6,245.6C133,254.5 132.4,269 132.1,278.4C131.8,287.8 131.6,298.1 131.5,302" fill="none" stroke="#141414" stroke-width="2.6" stroke-linejoin="round" stroke-linecap="round"/>
<path d="M262,96C260,97.5 253.3,102.6 250,105.2C246.7,107.8 245.1,109.1 242.1,111.6C239.1,114.1 236.7,116.5 232,120C227.3,123.5 219.8,129 213.8,132.8C207.8,136.6 201.6,139.8 196,143C190.4,146.2 185.1,149.4 180,151.9C174.9,154.4 170.3,156.1 165.6,158.2C160.9,160.3 155.7,162.8 151.9,164.6C148.1,166.4 145.5,167.5 142.8,169.2C140.1,170.9 137.3,172.8 135.5,174.6C133.7,176.4 132.8,178 131.9,180.1C131,182.2 130.4,184.7 130,187.4C129.6,190.1 129.7,192.7 129.6,196.5C129.5,200.3 129.3,202.8 129.4,210C129.5,217.2 129.8,230 130,240C130.2,250 130.6,259.7 130.8,270C131,280.3 131.1,296.7 131.2,302" fill="none" stroke="#141414" stroke-width="2.6" stroke-linejoin="round" stroke-linecap="round"/>
<path d="M131.5,179.5C131.1,180.4 129.5,182.4 129,185C128.5,187.6 128.4,176.5 128.3,195C128.2,213.5 128.2,279.2 128.2,296" fill="none" stroke="#141414" stroke-width="2.8" stroke-linejoin="round" stroke-linecap="round" stroke-dasharray="7,7"/>
<path d="M149,178.5C148.1,179.8 145.2,183.5 143.8,186.5C142.4,189.5 141.4,193.1 140.4,196.5C139.4,199.9 138.5,202.9 137.7,207C136.9,211.1 136.1,218.7 135.8,221" fill="none" stroke="#141414" stroke-width="2.6" stroke-linejoin="round" stroke-linecap="round" stroke-dasharray="6,7"/>
<path d="M389.5,171.8C392.1,170.7 398.6,167.4 405,165.1C411.4,162.8 420.2,160.4 427.8,158.2C435.4,156 444.4,153.8 450.6,151.9C456.8,150.1 460.1,148.8 465,146.9C469.9,145.1 474.9,142.8 480,140.8C485.1,138.8 490.4,136.9 495.6,134.7C500.8,132.6 506,130.6 511.2,128.1C516.5,125.6 522.7,122.2 526.9,119.7C531.1,117.2 533.4,115.3 536.2,113C539.1,110.7 541.1,108.4 544,105.7C546.9,103 549.9,99.7 553.4,96.6C556.9,93.5 560.8,90.8 565.2,86.9C569.6,83.1 575.7,77.8 580,73.6C584.3,69.5 587.6,65.5 591.2,62.1C594.9,58.8 598.2,55.9 601.7,53.6C605.2,51.3 608.6,50 612.1,48.2C615.6,46.5 619.4,44.9 622.5,43C625.6,41.1 628.4,38.9 630.8,36.7C633.2,34.6 636,31.1 637.1,29.9" fill="none" stroke="#141414" stroke-width="2.6" stroke-linejoin="round" stroke-linecap="round"/>
<path d="M389.5,170C392.1,168.9 398.6,165.6 405,163.4C411.4,161.2 420.2,158.7 427.8,156.5C435.4,154.3 444.4,152.1 450.6,150.2C456.8,148.4 462.6,146.1 465,145.2" fill="none" stroke="#141414" stroke-width="2.6" stroke-linejoin="round" stroke-linecap="round" stroke-dasharray="6,7"/>
<path d="M637.1,29.9C637.2,30.3 637.8,30.9 637.9,32C638,33.2 638.1,34.7 637.6,36.7C637.1,38.7 636.5,42 635,44.1C633.5,46.1 631.5,47.9 628.8,49.3C626,50.7 621.8,51.4 618.3,52.5C614.8,53.6 611,54.1 607.9,55.8C604.8,57.4 602.4,59.6 599.6,62.3C596.8,65 594.5,68.2 591.2,71.9C588,75.5 583.7,80.5 580,84.1C576.3,87.6 572.8,90.1 569,93.2C565.2,96.2 561.2,99.1 557.3,102.2C553.4,105.4 549.1,108.8 545.6,112C542.1,115.2 539.4,118.3 536.2,121.3C533.1,124.3 531.1,127 526.9,130C522.7,133.1 516.5,136.7 511.2,139.6C506,142.4 500.8,144.5 495.6,147C490.4,149.4 485.1,151.6 480,154.1C474.9,156.6 469.9,158.8 465,162C460.1,165.1 454.5,169.5 450.6,172.8C446.7,176.1 444.1,178.6 441.5,181.9C438.9,185.3 436.8,189.6 435.1,192.9C433.4,196.3 432.3,199.2 431.4,202C430.5,204.9 430.4,206.7 429.8,210C429.2,213.3 428.8,215.2 428.1,221.7C427.4,228.2 426.1,239.5 425.4,249.2C424.7,258.9 424.3,271.2 424,280C423.7,288.8 423.7,298.3 423.6,302" fill="none" stroke="#141414" stroke-width="2.6" stroke-linejoin="round" stroke-linecap="round"/>
<path d="M556,101.2C554.8,102.3 551.7,105.1 549,107.4C546.3,109.7 543.7,111.9 540,114.9C536.3,117.9 531.7,122.1 526.9,125.4C522.1,128.6 516.5,131.9 511.2,134.6C506,137.4 500.8,139.5 495.6,141.8C490.4,144 485.1,145.8 480,148.1C474.9,150.4 470.7,153.2 465,155.5C459.3,157.9 451.4,159.7 446,162C440.6,164.3 435.6,167.1 432.3,169.2C429,171.3 427.5,172.6 426,174.6C424.5,176.6 423.8,177.7 423.2,181C422.6,184.4 422.3,189.9 422.3,194.7C422.3,199.5 422.9,201.7 423,210C423.1,218.3 423.2,229.3 423.2,244.6C423.2,259.9 422.9,292.4 422.9,302" fill="none" stroke="#141414" stroke-width="2.6" stroke-linejoin="round" stroke-linecap="round"/>
<path d="M685,157C687.8,156.8 696.5,156.2 701.5,155.7C706.5,155.2 709.7,154.8 715,153.9C720.3,153.1 727.1,151.8 733.2,150.6C739.3,149.4 746.2,148.3 751.5,146.9C756.8,145.5 760.2,144.2 765,142.3C769.8,140.4 774.2,138.3 780,135.5C785.8,132.7 794.9,128.3 800,125.5C805.1,122.8 806.9,121.2 810.4,119C813.9,116.7 817.5,114.4 820.8,112.1C824.1,109.8 826.8,107.7 830,105.1C833.2,102.5 835.1,100.6 840,96.5C844.9,92.3 853,86.1 859.5,80.3C866,74.6 873.9,66.9 879,62C884.1,57.1 886.1,54.9 890,51C893.9,47.2 899,42.3 902.5,38.8C906,35.3 909.4,31.4 910.8,29.9" fill="none" stroke="#141414" stroke-width="2.6" stroke-linejoin="round" stroke-linecap="round"/>
<path d="M685,160.3C687.8,160.1 696.5,159.6 701.5,159C706.5,158.4 709.7,157.9 715,157C720.3,156.1 727.1,154.7 733.2,153.4C739.3,152.1 746.2,150.8 751.5,149.4C756.8,148 760.3,146.7 765,144.8C769.7,142.9 777.2,139.3 779.7,138.2" fill="none" stroke="#141414" stroke-width="2.6" stroke-linejoin="round" stroke-linecap="round" stroke-dasharray="6,7"/>
<path d="M910.8,29.9C910.9,30.2 911.8,30.6 911.6,31.5C911.4,32.4 910.9,33.4 909.5,35C908.1,36.6 906.4,38 903.5,41C900.6,44 896.4,48.8 892,53.2C887.6,57.6 881.3,63.3 877,67.6C872.7,71.9 870.8,74.3 866.3,78.9C861.8,83.5 854.9,90.8 850,95.3C845.1,99.8 840.8,102.7 837,106C833.2,109.3 830.2,112.4 827,115.4C823.8,118.3 821.1,120.9 817.8,123.7C814.5,126.4 810.9,129.4 807.4,131.9C803.9,134.4 800.9,136.2 797,138.7C793.1,141.3 787.7,144.9 784,147.1C780.3,149.4 778.9,150 775,152.3C771.1,154.6 764.5,158.6 760.6,160.8C756.7,162.9 755.3,163.7 751.5,165.2C747.7,166.7 741.1,168.1 737.8,169.6C734.4,171.1 732.8,172.4 731.4,174.2C730,176 729.6,178 729.1,180.6C728.6,183.2 728.3,185.6 728.2,189.7C728.1,193.8 728.4,198.3 728.6,205C728.8,211.7 729,213.8 729.2,230C729.4,246.2 729.5,290 729.6,302" fill="none" stroke="#141414" stroke-width="2.6" stroke-linejoin="round" stroke-linecap="round"/>
<path d="M911.6,31.5C911.7,32.2 913.2,33.8 912.4,35.8C911.6,37.8 909.6,39.8 906.7,43.2C903.8,46.6 899.5,51.5 895,56C890.5,60.5 884.3,65.9 880,70.2C875.7,74.5 873.8,76.9 869.3,81.5C864.8,86.1 857.9,93.3 853,97.8C848.1,102.3 843.8,105.1 840,108.4C836.2,111.8 833.2,114.8 830,117.8C826.8,120.7 824.1,123.3 820.8,126.1C817.5,128.9 813.9,131.9 810.4,134.4C806.9,137 803.9,138.8 800,141.4C796.1,144.1 791.2,147.5 787,150.2C782.8,153 778.6,155.6 775,157.8C771.4,160.1 768.7,161.4 765.1,163.7C761.5,166 756.8,169 753.3,171.6C749.8,174.3 746.5,177 744.2,179.7C741.9,182.5 740.8,185 739.6,187.9C738.4,190.8 737.6,194.2 736.9,197C736.1,199.9 735.7,202 735.1,205C734.5,208 733.9,210.5 733.3,215C732.7,219.5 732.1,220.8 731.6,232C731.1,243.2 730.6,270.3 730.4,282C730.2,293.7 730.2,298.7 730.2,302" fill="none" stroke="#141414" stroke-width="2.6" stroke-linejoin="round" stroke-linecap="round"/>
<path d="M912.4,37C911.5,38.2 909.6,41 906.7,44.4C903.8,47.8 899.5,52.7 895,57.2C890.5,61.7 884.3,67.1 880,71.4C875.7,75.7 873.8,78.1 869.3,82.7C864.8,87.3 857.9,94.5 853,99C848.1,103.5 843.8,106.3 840,109.6C836.2,113 833.2,116 830,119C826.8,121.9 824.1,124.5 820.8,127.3C817.5,130.1 813.9,133.1 810.4,135.6C806.9,138.2 803.4,140.3 800,142.6C796.6,144.9 791.7,148.3 790,149.4" fill="none" stroke="#141414" stroke-width="3.0" stroke-linejoin="round" stroke-linecap="round" stroke-dasharray="7,6"/>
<path d="M981.5,172.4C982.1,172.3 982.5,172.6 985,171.7C987.5,170.8 992.8,168.3 996.7,167C1000.6,165.7 1003.5,165 1008.4,164C1013.3,163 1020.1,162.2 1026,161.1C1031.9,160 1037.7,159 1043.6,157.6C1049.5,156.2 1054.3,155.4 1061.2,152.9C1068.1,150.4 1077.1,146.1 1085,142.3C1092.9,138.5 1101.7,134.1 1108.8,130.3C1115.8,126.5 1120.7,123.8 1127.5,119.4C1134.3,115 1142.7,108.1 1149.4,103.8C1156.2,99.4 1162.9,96.5 1168,93.2C1173.1,89.9 1176,87.2 1180,83.8C1184,80.4 1188.1,76.4 1191.9,72.8C1195.7,69.2 1199.5,64.8 1202.8,62C1206.1,59.2 1208.9,57.7 1211.9,56C1214.9,54.3 1217.8,53.1 1221,51.6C1224.2,50.1 1228,48.8 1231,47.3C1234,45.8 1236.9,44.6 1239.3,42.8C1241.7,41 1243.9,38.5 1245.6,36.4C1247.3,34.3 1248.7,31.1 1249.3,30" fill="none" stroke="#141414" stroke-width="2.6" stroke-linejoin="round" stroke-linecap="round"/>
<path d="M981.5,174.6C982.1,173.9 982.5,171.7 985,170.2C987.5,168.7 992.8,166.7 996.7,165.4C1000.6,164.1 1003.5,163.4 1008.4,162.4C1013.3,161.4 1020.1,160.6 1026,159.5C1031.9,158.4 1037.7,157.4 1043.6,156C1049.5,154.6 1058.3,152.1 1061.2,151.3" fill="none" stroke="#141414" stroke-width="2.6" stroke-linejoin="round" stroke-linecap="round" stroke-dasharray="6,7"/>
<path d="M1249.3,30C1249.5,30.4 1250.8,30.8 1250.8,32.5C1250.8,34.2 1250.2,37.8 1249.3,40C1248.4,42.2 1247.3,43.8 1245.6,45.5C1243.9,47.2 1241.7,48.8 1239.3,50C1236.9,51.2 1234,51.9 1231,52.8C1228,53.7 1224.2,54.5 1221,55.6C1217.8,56.7 1214.8,57.8 1211.9,59.5C1209,61.2 1206.7,62.9 1203.7,65.8C1200.7,68.7 1197.2,73.3 1193.7,77C1190.2,80.7 1186.4,84.6 1182.7,87.8C1179,91 1176.3,92.6 1171.2,96C1166.2,99.4 1158.8,104 1152.5,108.4C1146.2,112.8 1140.8,117.3 1133.8,122.5C1126.7,127.7 1118.4,134.6 1110.3,139.7C1102.2,144.8 1092.2,148.9 1085,152.9C1077.8,156.9 1072.9,160.1 1067,163.4C1061.1,166.7 1055,169.3 1049.5,172.8C1044,176.3 1039.1,181 1034.2,184.5C1029.3,188 1023.7,191 1020.2,193.9C1016.7,196.8 1014.9,199 1013.1,202.1C1011.3,205.2 1010.6,209.4 1009.6,212.7C1008.6,216 1008,218.8 1007.3,222C1006.6,225.2 1006,226.8 1005.5,232C1005,237.2 1004.6,243.6 1004.2,253.2C1003.8,262.8 1003.4,281.4 1003.2,289.5C1003,297.6 1003.2,299.9 1003.2,302" fill="none" stroke="#141414" stroke-width="2.6" stroke-linejoin="round" stroke-linecap="round"/>
<path d="M1072,149.6C1070.2,150.4 1065,152.7 1061.2,154.4C1057.5,156.1 1054.4,157 1049.5,159.8C1044.6,162.6 1037.8,168.2 1031.9,171.1C1026,174 1018.6,175.9 1014.3,177.5C1010,179.1 1007.9,179.4 1006,180.5C1004.1,181.6 1003.4,180.8 1002.8,184C1002.2,187.2 1002.5,180.3 1002.4,200C1002.3,219.7 1002.4,285 1002.4,302" fill="none" stroke="#141414" stroke-width="2.6" stroke-linejoin="round" stroke-linecap="round"/>
<path d="M1072,150.8C1070.2,151.6 1065,153.9 1061.2,155.6C1057.5,157.3 1054.4,158.2 1049.5,161C1044.6,163.8 1037.8,169.4 1031.9,172.3C1026,175.2 1017.2,177.6 1014.3,178.7" fill="none" stroke="#141414" stroke-width="2.8" stroke-linejoin="round" stroke-linecap="round" stroke-dasharray="6,7"/>
<path d="M1006.6,229C1006.4,232.5 1005.8,238.5 1005.6,250C1005.4,261.5 1005.3,290 1005.2,298" fill="none" stroke="#141414" stroke-width="2.6" stroke-linejoin="round" stroke-linecap="round" stroke-dasharray="6,7"/>
<path d="M1049,160.5C1051,159.7 1055.2,158.4 1061.2,155.8C1067.2,153.2 1078.5,148.2 1085,145.2C1091.5,142.2 1095.8,139.7 1100,137.6C1104.2,135.5 1108.3,133.3 1110,132.4" fill="none" stroke="#141414" stroke-width="3.0" stroke-linejoin="round" stroke-linecap="round" stroke-dasharray="8,9"/>
<path d="M93.5,546.7C100.7,546.8 124.2,547.3 136.9,547.2C149.7,547.1 163,546.6 170,546.3C177,546 176.7,546.2 179,545.5C181.3,544.8 182.1,543.9 183.7,542C185.3,540.1 186.9,536.7 188.5,534C190.1,531.3 191.2,530.1 193.1,525.6C195,521.1 198.1,511.6 200.1,506.9C202.1,502.2 202.8,498.3 204.8,497.5C206.8,496.7 209.2,500.6 211.9,502.2C214.6,503.8 218.1,506.1 221.2,506.9C224.3,507.7 227.1,506.3 230.6,506.9C234.1,507.5 238.4,508.4 242.3,510.4C246.2,512.4 250.1,516.8 254,518.6C257.9,520.4 261.9,521.2 265.8,521.4C269.7,521.6 273.6,520.7 277.5,519.8C281.4,518.9 286.1,516.2 289.2,515.8C292.3,515.4 292.3,516 296.2,517.4C300.1,518.8 307.9,522.8 312.6,524.4C317.3,526 320.9,527.2 324.4,526.8C327.9,526.4 331.4,525.4 333.7,522.1C336,518.8 336.6,511 338.4,506.9C340.2,502.8 342.4,497.5 344.3,497.5C346.2,497.5 348,502.6 350.1,506.9C352.2,511.2 354.9,519.2 357.2,523.3C359.5,527.4 363,530.1 364.2,531.5" fill="none" stroke="#141414" stroke-width="2.7" stroke-linejoin="round" stroke-linecap="round"/>
<path d="M364.2,531.5C363.4,535.2 361.9,546.9 359.5,553.7C357.1,560.5 353.4,566.4 350.1,572.5C346.8,578.6 342.3,589.3 339.6,590.1C336.9,590.9 336.2,581.3 333.7,577.2C331.2,573.1 327.5,567.9 324.4,565.5C321.3,563.1 318.9,562.7 315,563.1C311.1,563.5 305.6,565.8 300.9,567.8C296.2,569.8 291.6,574.4 286.9,574.8C282.2,575.2 277.5,571.1 272.8,570.1C268.1,569.1 263.8,568.2 258.7,569C253.6,569.8 247.8,572.5 242.3,574.8C236.8,577.1 231,581.8 225.9,583C220.8,584.2 215.8,583.3 211.9,581.9C208,580.5 206,577.9 202.5,574.8C199,571.7 194.7,565.8 190.8,563.1C186.9,560.4 183.3,560 179,558.4C174.7,556.8 170.1,555.2 165,553.7C159.9,552.2 157.2,550.2 148.6,549.1C140,548 122.6,547.6 113.4,547.2C104.2,546.8 96.8,546.8 93.5,546.7" fill="none" stroke="#141414" stroke-width="2.7" stroke-linejoin="round" stroke-linecap="round"/>
<path d="M93.5,547.2C101.2,547.1 126.5,546.8 140,546.5C153.5,546.2 167.9,547.4 174.4,545.5C180.9,543.6 177.4,539.5 179,535C180.6,530.5 181.7,521.9 183.7,518.6C185.7,515.3 188.5,518.6 190.8,515.1C193.2,511.6 195.5,502.6 197.8,497.5C200.1,492.4 202.9,485.8 204.8,484.6C206.8,483.4 207.9,487.2 209.5,490.5C211.1,493.8 212.2,501.2 214.2,504.5C216.1,507.8 217.7,509.2 221.2,510.4C224.7,511.6 231.4,510.8 235.3,511.6C239.2,512.4 242,514.3 244.7,515.1C247.4,515.9 249.4,515.8 251.7,516.2C254,516.6 254.4,517.2 258.7,517.4C263,517.6 272.4,518.2 277.5,517.4C282.6,516.6 285.3,512.5 289.2,512.7C293.1,512.9 295.8,516.2 300.9,518.6C306,521 314.2,526.4 319.7,526.8C325.2,527.2 330.6,524.2 333.7,520.9C336.8,517.6 336.6,511 338.4,506.9C340.2,502.8 342.4,496.3 344.3,496.3C346.2,496.3 348,502.8 350.1,506.9C352.2,511 354.9,516.8 357.2,520.9C359.5,525 363,529.7 364.2,531.5" fill="none" stroke="#e3262d" stroke-width="2.45" stroke-linejoin="round" stroke-linecap="round"/>
<path d="M253,501C253,503.8 253.2,515.2 253.2,518" fill="none" stroke="#e3262d" stroke-width="2.45" stroke-linejoin="round" stroke-linecap="round"/>
<path d="M364.2,532.7C363,537 359.9,551.4 357.2,558.4C354.5,565.4 350.9,568.5 347.8,574.8C344.7,581 340.8,594.7 338.4,595.9C336,597.1 336,587 333.7,581.9C331.4,576.8 327.9,568.6 324.4,565.5C320.9,562.4 317.3,562.3 312.6,563.1C307.9,563.9 300.9,567.8 296.2,570.1C291.5,572.5 288.4,577.2 284.5,577.2C280.6,577.2 277.9,571.3 272.8,570.1C267.7,568.9 261,568.5 254,570.1C247,571.7 237.6,578.3 230.6,579.5C223.6,580.7 216.2,576.4 211.9,577.2C207.6,578 207,581.7 204.8,584.2C202.7,586.7 200.9,593.6 199,592.4C197.1,591.2 195.7,582.1 193.1,577.2C190.5,572.3 188,566.2 183.7,563.1C179.4,560 171.2,559.2 167.3,558.4C163.4,557.6 163.4,559.4 160.3,558.4C157.2,557.4 154.4,554.2 148.6,552.6C142.8,551 134.4,549.5 125.2,548.6C116,547.7 98.8,547.4 93.5,547.2" fill="none" stroke="#e3262d" stroke-width="2.45" stroke-linejoin="round" stroke-linecap="round"/>
<path d="M389.5,546.7C397.9,546.7 426.1,546.8 440,546.6C453.9,546.4 466.1,546.3 472.7,545.5C479.3,544.7 477.7,543.4 479.7,542C481.7,540.6 482.9,539 484.5,537C486.1,535 487.2,534.1 489.1,530.3C491,526.4 493.8,519.4 496.1,513.9C498.5,508.4 501.1,501.4 503.2,497.5C505.3,493.6 506.7,490.5 509,490.5C511.3,490.5 514.3,496.2 517.2,497.5C520.1,498.8 523.5,497.2 526.6,498C529.7,498.8 532.9,499.8 536,502.2C539.1,504.6 542.7,509.8 545.4,512.7C548.1,515.6 548.5,517.8 552.4,519.8C556.3,521.8 563.7,524.4 568.8,524.4C573.9,524.4 579.4,521.2 582.9,519.8C586.4,518.4 586.8,515.8 589.9,516.2C593,516.6 597.3,520.3 601.6,522.1C605.9,523.9 611.4,526.6 615.7,526.8C620,527 624.3,526.6 627.4,523.3C630.5,520 632.2,512 634.4,506.9C636.5,501.8 638.3,492.8 640.3,492.8C642.2,492.8 644,501.8 646.1,506.9C648.2,512 650.9,519.2 653.2,523.3C655.6,527.4 659,530.1 660.2,531.5" fill="none" stroke="#141414" stroke-width="2.7" stroke-linejoin="round" stroke-linecap="round"/>
<path d="M660.2,531.5C658.6,534.4 653.7,543.8 650.8,549.1C647.9,554.4 644.9,557.6 642.6,563.1C640.3,568.6 638.2,574.7 636.8,581.9C635.4,589.1 635.2,605.7 634,606.5C632.8,607.3 632,592.6 629.7,586.5C627.4,580.4 623.9,574 620.4,570.1C616.9,566.2 613.3,563.5 608.6,563.1C603.9,562.7 596.9,566 592.2,567.8C587.5,569.6 585.2,573.9 580.5,573.7C575.8,573.5 569.2,567.6 564.1,566.6C559,565.6 554.7,565.2 550,567.8C545.3,570.3 540.3,578.4 536,581.9C531.7,585.4 529,588.5 524.3,588.9C519.6,589.3 512.6,586.6 507.9,584.2C503.2,581.9 500,578.3 496.1,574.8C492.2,571.3 489.1,566.4 484.4,563.1C479.7,559.8 474.6,557.2 468,554.9C461.4,552.6 457.7,550.5 444.6,549.1C431.5,547.7 398.7,547.1 389.5,546.7" fill="none" stroke="#141414" stroke-width="2.7" stroke-linejoin="round" stroke-linecap="round"/>
<path d="M389.5,547.2C397.9,547.1 426.3,546.8 440,546.5C453.7,546.2 465.3,549 471.5,545.5C477.7,542 475.6,530.3 477.4,525.6C479.2,520.9 480.5,519.1 482.1,517.4C483.7,515.6 484.9,518.8 486.8,515.1C488.8,511.4 491.5,500.3 493.8,495.2C496.1,490.1 498.9,485 500.8,484.6C502.8,484.2 503.9,489.3 505.5,492.8C507.1,496.3 507.8,502.6 510.2,505.7C512.5,508.8 516.1,510.4 519.6,511.6C523.1,512.8 527.8,511.9 531.3,512.7C534.8,513.5 539.1,515.6 540.7,516.2" fill="none" stroke="#e3262d" stroke-width="2.45" stroke-linejoin="round" stroke-linecap="round"/>
<path d="M548.9,501C549,503.7 549.2,514.3 549.2,517" fill="none" stroke="#e3262d" stroke-width="2.45" stroke-linejoin="round" stroke-linecap="round"/>
<path d="M549.5,516.2C552.7,516.4 562.8,518 568.8,517.4C574.8,516.8 580.5,512.5 585.2,512.7C589.9,512.9 591.8,516.2 596.9,518.6C602,521 610.2,526.4 615.7,526.8C621.2,527.2 626.6,523.8 629.7,520.9C632.8,518 632.6,513.5 634.4,509.2C636.2,504.9 638.3,496 640.3,495.2C642.2,494.4 644,500.6 646.1,504.5C648.2,508.4 650.7,514.1 653.2,518.6C655.8,523.1 660,529.4 661.4,531.5" fill="none" stroke="#e3262d" stroke-width="2.45" stroke-linejoin="round" stroke-linecap="round"/>
<path d="M661.4,532.7C660.4,536.2 658,547.1 655.5,553.7C653,560.3 648.8,567 646.1,572.5C643.4,578 640.9,582.6 639.1,586.5C637.4,590.4 637,596.7 635.6,595.9C634.2,595.1 633,586.6 630.9,581.9C628.8,577.2 626.4,570.9 622.7,567.8C619,564.7 613.7,562.7 608.6,563.1C603.5,563.5 596.9,567.8 592.2,570.1C587.5,572.5 585.2,577.4 580.5,577.2C575.8,577 569.2,570.2 564.1,569C559,567.8 555.5,568.6 550,570.1C544.5,571.6 537.9,577.1 531.3,578.3C524.7,579.5 514.9,576.6 510.2,577.2C505.5,577.8 505.5,579.4 503.2,581.9C500.9,584.4 498.5,593.2 496.1,592.4C493.8,591.6 491.8,582.1 489.1,577.2C486.4,572.3 484,566.2 479.7,563.1C475.4,560 467.6,559.2 463.3,558.4C459,557.6 457.1,559.4 454,558.4C450.9,557.4 450.3,554.3 444.6,552.6C438.9,550.9 429.2,548.9 420,548C410.8,547.1 394.6,547.3 389.5,547.2" fill="none" stroke="#e3262d" stroke-width="2.45" stroke-linejoin="round" stroke-linecap="round"/>
<path d="M685.5,547.9C692.7,547.9 713.9,548.1 728.9,547.9C743.9,547.7 767.1,547.5 775.7,546.7C784.3,545.9 778.8,545.5 780.4,543.2C782,540.9 783.5,537.6 785.1,532.7C786.7,527.8 788.4,519.4 789.8,513.9C791.2,508.4 792.1,502.9 793.3,499.8C794.5,496.8 795.4,495.4 796.8,495.6C798.2,495.8 799.5,498.5 801.5,501C803.5,503.5 805.9,508.2 808.6,510.4C811.3,512.5 814,512.9 817.9,513.9C821.8,514.9 827.3,515.1 832,516.2C836.7,517.3 841.3,519.5 846,520.5C850.7,521.5 854.2,521.8 860.1,522.1C866,522.4 875,521.5 881.2,522.1C887.5,522.7 891.7,524.6 897.6,525.6C903.5,526.6 910.9,527.7 916.4,528C921.9,528.3 926.1,527.9 930.4,527.4C934.7,526.9 938.8,525.6 942.1,525C945.4,524.4 947.6,524.2 950,524C952.4,523.8 955.1,523.5 956.4,523.8C957.7,524.1 957.8,523 957.6,525.6C957.4,528.2 955.8,534.2 955,539.7C954.2,545.2 953.7,554.3 952.7,558.4C951.7,562.5 951.4,562.7 949.2,564.3C947.1,565.9 943.3,567.6 939.8,567.8C936.3,568 934,565.9 928.1,565.5C922.2,565.1 912.4,564.6 904.6,565.5C896.8,566.4 889,569.4 881.2,570.6C873.4,571.8 865.6,571.8 857.8,572.5C850,573.2 841.7,573.6 834.3,574.8C826.9,576 819.1,578.3 813.2,579.5C807.4,580.7 802.7,581.9 799.2,581.9C795.7,581.9 794.8,581.9 792.1,579.5C789.4,577.1 785.5,570.9 782.8,567.8C780.1,564.7 778.8,563.1 775.7,560.8C772.6,558.4 767.9,555.5 764,553.7C760.1,551.9 758.1,551.1 752.3,550.2C746.4,549.4 740,549 728.9,548.6C717.8,548.2 692.7,548 685.5,547.9" fill="none" stroke="#141414" stroke-width="2.7" stroke-linejoin="round" stroke-linecap="round"/>
<path d="M981.9,545.5C989.9,545.5 1016.4,545.5 1030.1,545.5C1043.8,545.5 1057.6,545.8 1064,545.6C1070.4,545.4 1067.3,545.5 1068.5,544.2C1069.7,542.9 1070.4,541.2 1071.2,538C1072,534.8 1072.5,531.3 1073.2,525C1073.9,518.7 1074.5,507.8 1075.2,500C1075.9,492.2 1076.8,482.6 1077.6,478C1078.4,473.4 1079.3,472.4 1080.2,472.2C1081.1,471.9 1081.8,472.8 1083,476.5C1084.2,480.2 1085.8,490.1 1087.4,494.7C1089,499.2 1090.9,502.1 1092.6,503.8C1094.3,505.5 1095.2,505.3 1097.8,505.1C1100.4,504.9 1104.3,502.9 1108.2,502.5C1112.1,502.1 1116.9,501.7 1121.2,503C1125.5,504.3 1130,507.8 1134.3,510.3C1138.6,512.8 1143,516.5 1147.3,518.1C1151.6,519.8 1155.5,520.4 1160.3,520.2C1165.1,520 1171.6,518.2 1175.9,516.8C1180.2,515.4 1183.7,512.2 1186.3,511.6C1188.9,511 1188.9,511.2 1191.5,512.9C1194.1,514.6 1198.1,519.8 1202,522C1205.9,524.2 1211.1,525.7 1215,525.9C1218.9,526.1 1222.8,525.5 1225.4,523.3C1228,521.1 1229.1,518.1 1230.6,512.9C1232.1,507.7 1233.4,498 1234.5,492.1C1235.6,486.2 1236.2,479.1 1237.1,477.8C1238,476.5 1238.6,479.8 1239.7,484.3C1240.8,488.9 1241.9,498.6 1243.6,505.1C1245.3,511.6 1247.7,518.8 1250.1,523.3C1252.5,527.8 1255.6,530.2 1258,532.4C1260.4,534.6 1263.4,535.7 1264.5,536.4" fill="none" stroke="#141414" stroke-width="2.7" stroke-linejoin="round" stroke-linecap="round"/>
<path d="M1264.5,536.4C1263.2,538.6 1259.2,545.1 1256.6,549.4C1254,553.7 1251.4,557.6 1248.8,562.4C1246.2,567.2 1243.2,571.5 1241,578C1238.8,584.5 1237.1,594.1 1235.8,601.5C1234.5,608.9 1234.1,622.3 1233.2,622.3C1232.3,622.3 1231.7,609.3 1230.6,601.5C1229.5,593.7 1228.4,581 1226.7,575.4C1225,569.8 1223,569.4 1220.2,567.6C1217.4,565.8 1213.3,564.5 1209.8,564.5C1206.3,564.5 1202.9,565.4 1199.4,567.6C1195.9,569.9 1191.5,576 1188.9,578C1186.3,580 1186.7,580.2 1183.7,579.3C1180.7,578.4 1175.5,574.3 1170.7,572.8C1165.9,571.3 1160.3,570.2 1155.1,570.2C1149.9,570.2 1144.3,570.6 1139.5,572.8C1134.7,575 1130.8,580.8 1126.4,583.2C1122.1,585.6 1118.2,586.7 1113.4,587.1C1108.6,587.5 1103,587.3 1097.8,585.8C1092.6,584.3 1086.5,580.4 1082.2,578C1077.9,575.6 1074.8,572.6 1071.8,571.5C1068.8,570.4 1066.5,572.6 1063.9,571.5C1061.3,570.4 1058.7,567.8 1056.1,565C1053.5,562.2 1051.8,557.2 1048.3,554.6C1044.8,552 1040.5,550.7 1035.3,549.4C1030.1,548.1 1026,547.3 1017.1,546.8C1008.2,546.3 987.8,546.3 981.9,546.2" fill="none" stroke="#141414" stroke-width="2.7" stroke-linejoin="round" stroke-linecap="round"/>
</svg>
</body></html>
